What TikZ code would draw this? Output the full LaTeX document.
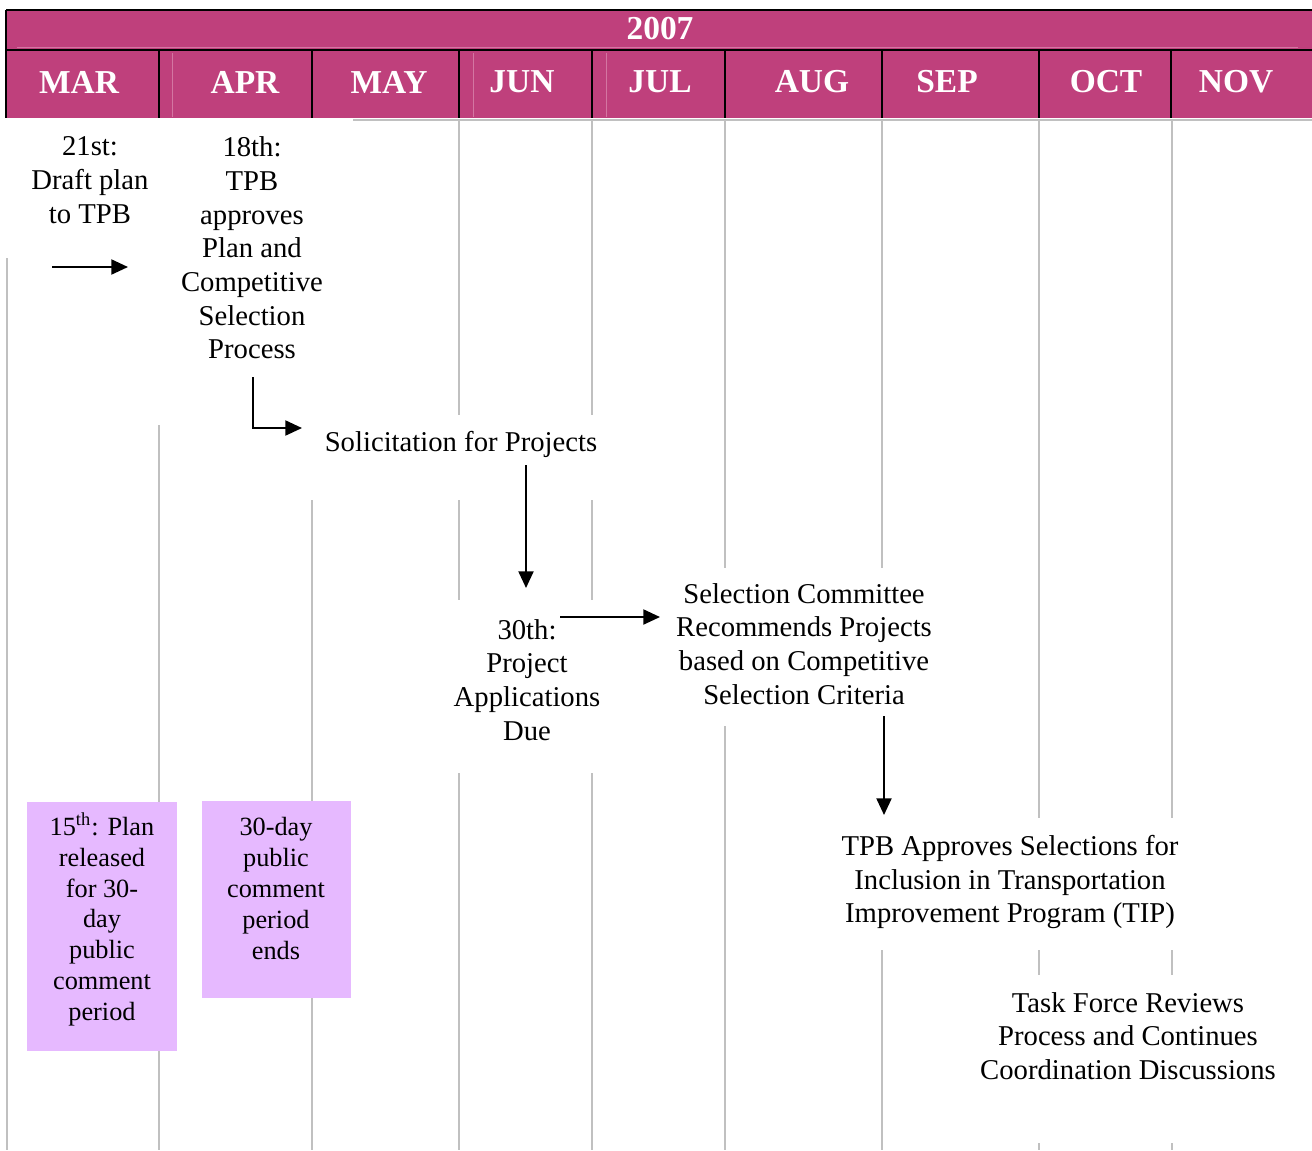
\documentclass[tikz,border=0pt]{standalone}
\usepackage{fontspec}
\setmainfont{Liberation Serif}
\usetikzlibrary{arrows.meta}
\definecolor{hdr}{RGB}{191,64,124}
\definecolor{hdrlight}{RGB}{212,118,162}
\definecolor{gridc}{RGB}{192,192,192}
\definecolor{boxfill}{RGB}{230,185,255}
\tikzset{
 body/.style={font=\fontsize{12}{14.1}\selectfont, align=center, inner sep=0pt},
 boxtxt/.style={font=\fontsize{11}{12.9}\selectfont, align=center, inner sep=0pt},
 hdrtxt/.style={font=\bfseries\fontsize{14}{16}\selectfont, text=white, inner sep=0pt},
 gridline/.style={draw=gridc, line width=0.8pt},
 frameline/.style={draw=black, line width=1pt},
 flow/.style={draw=black, line width=0.85pt, -{Triangle[length=7pt,width=6.3pt]}},
 pbox/.style={fill=boxfill, draw=none, inner sep=0pt, anchor=north west}
}
\begin{document}
\begin{tikzpicture}[x=0.4184pt, y=-0.4184pt]
\useasboundingbox (0,0) rectangle (1312,1150);
% header
\fill[hdr] (6,10) rectangle (1312,118);
\draw[hdrlight, line width=0.5pt] (17,47.5) -- (1298,47.5);
\foreach \xx in {172,473,606} \draw[hdrlight, line width=0.4pt] (\xx,53) -- (\xx,117);
\draw[frameline] (6,10) -- (1312,10);
\draw[frameline] (6,50) -- (1312,50);
\draw[frameline] (6,10) -- (6,118);
\foreach \xx in {159,312,459,592,725,882,1039,1171} \draw[frameline] (\xx,50) -- (\xx,118);
\draw[gridline] (353,120) -- (1312,120);
\node[hdrtxt] (yr) at (660,29) {2007};
\node[hdrtxt] (mar) at (79,82) {MAR};
\node[hdrtxt] (apr) at (245,82) {APR};
\node[hdrtxt] (may) at (389,82) {MAY};
\node[hdrtxt] (jun) at (522,82) {JUN};
\node[hdrtxt] (jul) at (660,82) {JUL};
\node[hdrtxt] (aug) at (812,82) {AUG};
\node[hdrtxt] (sep) at (947,82) {SEP};
\node[hdrtxt] (oct) at (1106,82) {OCT};
\node[hdrtxt] (nov) at (1236,82) {NOV};
% grid lines
\draw[gridline] (7,258) -- (7,1150);
\draw[gridline] (159,425) -- (159,1150);
\draw[gridline] (312,500) -- (312,1150);
\foreach \xx in {459,592} {
  \draw[gridline] (\xx,120) -- (\xx,415);
  \draw[gridline] (\xx,500) -- (\xx,600);
  \draw[gridline] (\xx,773) -- (\xx,1150);
}
\draw[gridline] (725,120) -- (725,568);
\draw[gridline] (725,726) -- (725,1150);
\draw[gridline] (882,120) -- (882,568);
\draw[gridline] (882,950) -- (882,1150);
\foreach \xx in {1039,1172} {
  \draw[gridline] (\xx,120) -- (\xx,818);
  \draw[gridline] (\xx,950) -- (\xx,975);
  \draw[gridline] (\xx,1143) -- (\xx,1150);
}
% purple boxes
\node[pbox, minimum width=62.76pt, minimum height=104.18pt] (box1) at (27,801) {};
\node[pbox, minimum width=62.34pt, minimum height=82.84pt] (box2) at (202,800) {};
\node[boxtxt] (t15) at (102,919.5) {15\textsuperscript{th}: Plan\\released\\for 30-\\day\\public\\comment\\period};
\node[boxtxt] (t30d) at (276,888.5) {30-day\\public\\comment\\period\\ends};
% texts
\node[body] (t21) at (90,180) {21st:\\Draft plan\\to TPB};
\node[body] (t18) at (252,248) {18th:\\TPB\\approves\\Plan and\\Competitive\\Selection\\Process};
\node[body] (sol) at (461,444) {Solicitation for Projects};
\node[body] (due) at (527,680) {30th:\\Project\\Applications\\Due};
\node[body] (sel) at (804,644) {Selection Committee\\Recommends Projects\\based on Competitive\\Selection Criteria};
\node[body] (tip) at (1010,882) {TPB Approves Selections for\\Inclusion in Transportation\\Improvement Program (TIP)};
\node[body] (task) at (1128,1036) {Task Force Reviews\\Process and Continues\\Coordination Discussions};
% arrows
\coordinate (a1s) at (52,267);
\coordinate (a1e) at (128,267);
\draw[flow] (a1s) -- (a1e);
\coordinate (a2s) at (253,377);
\coordinate (a2e) at (302,428);
\draw[flow] (a2s) |- (a2e);
\coordinate (a3s) at (526,465);
\coordinate (a3e) at (526,588);
\draw[flow] (a3s) -- (a3e);
\coordinate (a4s) at (560,617);
\coordinate (a4e) at (660,617);
\draw[flow] (a4s) -- (a4e);
\coordinate (a5s) at (884,716);
\coordinate (a5e) at (884,815);
\draw[flow] (a5s) -- (a5e);
\end{tikzpicture}
\end{document}
